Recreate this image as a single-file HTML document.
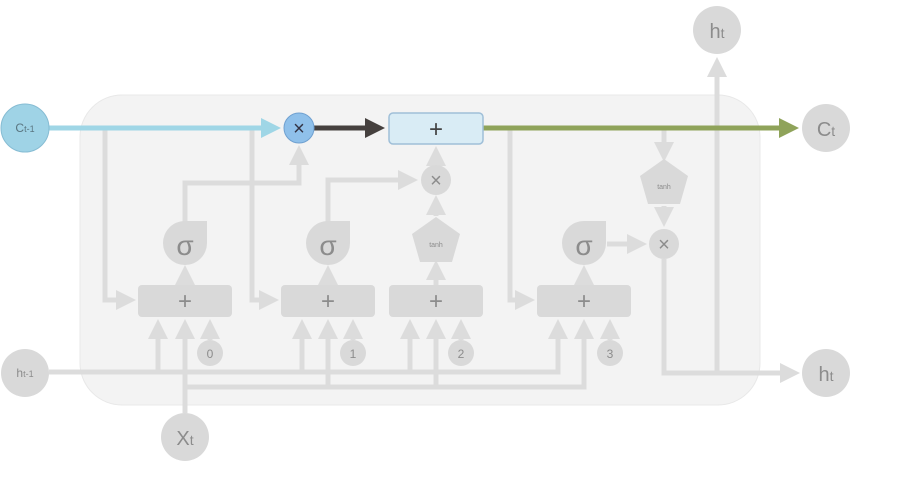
<!DOCTYPE html>
<html><head><meta charset="utf-8"><style>
html,body{margin:0;padding:0;background:#fff;}
svg text{font-family:"Liberation Sans",sans-serif;}
</style></head><body>
<svg width="917" height="472" viewBox="0 0 917 472" xmlns="http://www.w3.org/2000/svg">
<defs>
<marker id="ag" markerWidth="4" markerHeight="4" refX="3" refY="2" orient="auto" markerUnits="strokeWidth"><path d="M0,0 L4,2 L0,4 Z" fill="#dcdcdc"/></marker>
<marker id="ab" markerWidth="4" markerHeight="4" refX="3" refY="2" orient="auto" markerUnits="strokeWidth"><path d="M0,0 L4,2 L0,4 Z" fill="#9fd6e6"/></marker>
<marker id="ad" markerWidth="4" markerHeight="4" refX="3" refY="2" orient="auto" markerUnits="strokeWidth"><path d="M0,0 L4,2 L0,4 Z" fill="#45403e"/></marker>
<marker id="agr" markerWidth="4" markerHeight="4" refX="3" refY="2" orient="auto" markerUnits="strokeWidth"><path d="M0,0 L4,2 L0,4 Z" fill="#8fa35a"/></marker>
</defs>
<rect x="80" y="95" width="680" height="310" rx="42" fill="#f3f3f3" stroke="#e8e8e8"/>
<g fill="none" stroke="#dcdcdc" stroke-width="5">
<path d="M105,128 V300 H131" marker-end="url(#ag)"/>
<path d="M252,128 V300 H274" marker-end="url(#ag)"/>
<path d="M510,128 V300 H530" marker-end="url(#ag)"/>
<path d="M185,285 V270" marker-end="url(#ag)"/>
<path d="M328,285 V270" marker-end="url(#ag)"/>
<path d="M436,285 V265" marker-end="url(#ag)"/>
<path d="M584,285 V270" marker-end="url(#ag)"/>
<path d="M185,222 V183 H299 V150" marker-end="url(#ag)"/>
<path d="M328,222 V180 H413" marker-end="url(#ag)"/>
<path d="M436,216 V200" marker-end="url(#ag)"/>
<path d="M436,165 V151" marker-end="url(#ag)"/>
<path d="M607,244 H642" marker-end="url(#ag)"/>
<path d="M664,130 V157" marker-end="url(#ag)"/>
<path d="M664,206 V222" marker-end="url(#ag)"/>
<path d="M664,259 V373 H795" marker-end="url(#ag)"/>
<path d="M717,373 V62" marker-end="url(#ag)"/>
<path d="M49,372 H558 V324" marker-end="url(#ag)"/>
<path d="M158,372 V324" marker-end="url(#ag)"/>
<path d="M302,372 V324" marker-end="url(#ag)"/>
<path d="M410,372 V324" marker-end="url(#ag)"/>
<path d="M185,413 V324" marker-end="url(#ag)"/>
<path d="M185,387 H584 V324" marker-end="url(#ag)"/>
<path d="M328,387 V324" marker-end="url(#ag)"/>
<path d="M436,387 V324" marker-end="url(#ag)"/>
<path d="M210,340 V324" marker-end="url(#ag)"/>
<path d="M353,340 V324" marker-end="url(#ag)"/>
<path d="M461,340 V324" marker-end="url(#ag)"/>
<path d="M610,340 V324" marker-end="url(#ag)"/>
</g>
<path d="M49,128 H276" stroke="#9fd6e6" stroke-width="5" fill="none" marker-end="url(#ab)"/>
<path d="M314,128 H380" stroke="#45403e" stroke-width="5" fill="none" marker-end="url(#ad)"/>
<path d="M483,128 H794" stroke="#8fa35a" stroke-width="5" fill="none" marker-end="url(#agr)"/>
<g fill="#d9d9d9">
<rect x="138" y="285" width="94" height="32" rx="4"/>
<rect x="281" y="285" width="94" height="32" rx="4"/>
<rect x="389" y="285" width="94" height="32" rx="4"/>
<rect x="537" y="285" width="94" height="32" rx="4"/>
<path d="M185,221 H207 V243 A22,22 0 1,1 185,221 Z"/>
<path d="M328,221 H350 V243 A22,22 0 1,1 328,221 Z"/>
<path d="M584,221 H606 V243 A22,22 0 1,1 584,221 Z"/>
<polygon points="436,217 460,234 452,262 420,262 412,234"/>
<polygon points="664,159 688,176 680,204 648,204 640,176"/>
<circle cx="436" cy="180" r="15"/>
<circle cx="664" cy="244" r="15"/>
<circle cx="210" cy="353" r="13"/>
<circle cx="353" cy="353" r="13"/>
<circle cx="461" cy="353" r="13"/>
<circle cx="610" cy="353" r="13"/>
<circle cx="25" cy="373" r="24"/>
<circle cx="185" cy="437" r="24"/>
<circle cx="826" cy="128" r="24"/>
<circle cx="826" cy="373" r="24"/>
<circle cx="717" cy="30" r="24"/>
</g>
<circle cx="25" cy="128" r="24" fill="#9fd3e6" stroke="#86bcd3"/>
<circle cx="299" cy="128" r="15" fill="#8fc0ea" stroke="#6fa0d0"/>
<rect x="389" y="113" width="94" height="31" rx="4" fill="#d9ecf5" stroke="#9fbfd8" stroke-width="1.5"/>
<g fill="#8c8c8c" text-anchor="middle">
<text x="185" y="309" font-size="24">+</text>
<text x="328" y="309" font-size="24">+</text>
<text x="436" y="309" font-size="24">+</text>
<text x="584" y="309" font-size="24">+</text>
<text x="185" y="255" font-size="28">σ</text>
<text x="328" y="255" font-size="28">σ</text>
<text x="584" y="255" font-size="28">σ</text>
<text x="436" y="247" font-size="7">tanh</text>
<text x="664" y="189" font-size="7">tanh</text>
<text x="436" y="187" font-size="20">×</text>
<text x="664" y="251" font-size="20">×</text>
<text x="210" y="358" font-size="12">0</text>
<text x="353" y="358" font-size="12">1</text>
<text x="461" y="358" font-size="12">2</text>
<text x="610" y="358" font-size="12">3</text>
<text x="25" y="377" font-size="12">h<tspan font-size="9">t-1</tspan></text>
<text x="185" y="445" font-size="20">X<tspan font-size="14">t</tspan></text>
<text x="826" y="136" font-size="20">C<tspan font-size="14">t</tspan></text>
<text x="826" y="381" font-size="20">h<tspan font-size="14">t</tspan></text>
<text x="717" y="38" font-size="20">h<tspan font-size="14">t</tspan></text>
</g>
<text x="25" y="132" font-size="12" fill="#5a7580" text-anchor="middle">C<tspan font-size="9">t-1</tspan></text>
<text x="299" y="135" font-size="20" fill="#334" text-anchor="middle">×</text>
<text x="436" y="137" font-size="24" fill="#444" text-anchor="middle">+</text>
</svg>
</body></html>
